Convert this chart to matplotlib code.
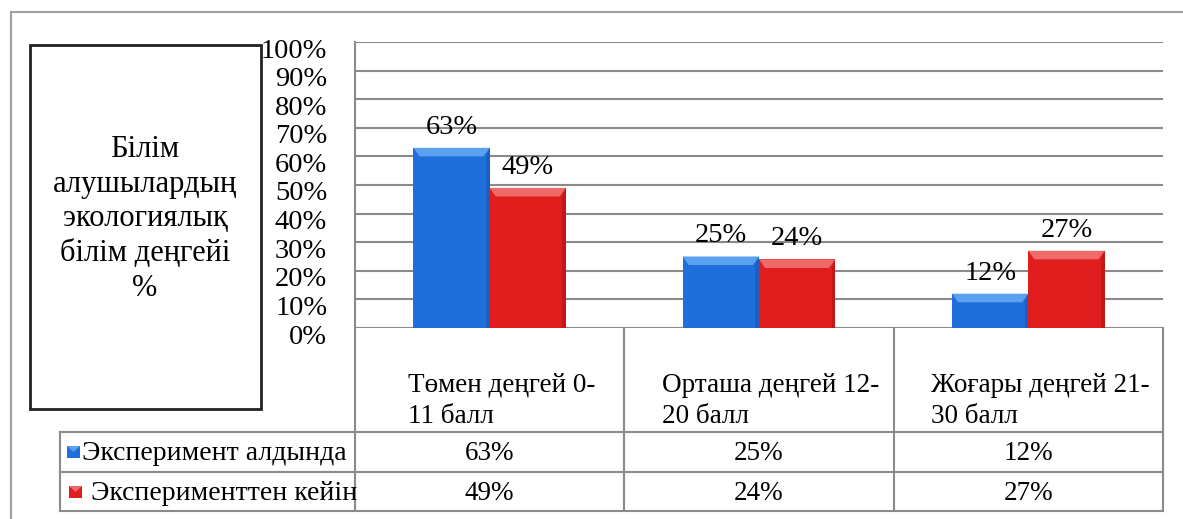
import matplotlib
matplotlib.use("Agg")
import matplotlib.pyplot as plt
import matplotlib.transforms as mtransforms
from matplotlib.patches import Polygon, Rectangle
from matplotlib.lines import Line2D

categories = ["Төмен деңгей 0-\n11 балл", "Орташа деңгей 12-\n20 балл", "Жоғары деңгей 21-\n30 балл"]
series_names = ["Эксперимент алдында", "Эксперименттен кейін"]
before = [63, 25, 12]
after = [49, 24, 27]
yticks = [0, 10, 20, 30, 40, 50, 60, 70, 80, 90, 100]
ylabel = "Білім\nалушылардың\nэкологиялық\nбілім деңгейі\n%"

W, H = 1183, 519
plt.rcParams['font.family'] = ['Liberation Serif', 'DejaVu Serif']
fig = plt.figure(figsize=(W / 100, H / 100), dpi=100)

blue, blue_light, blue_dark = "#1e6fdc", "#5aa2f0", "#1553a8"
red, red_light, red_dark = "#e01e1e", "#f06a6a", "#a81414"

# main plot area (pixel positions)
px_l, px_r, px_t, px_b = 355, 1163, 42, 328
ax = fig.add_axes([px_l / W, 1 - px_b / H, (px_r - px_l) / W, (px_b - px_t) / H])
ax.set_xlim(0, len(categories))
ax.set_ylim(0, 100)
ax.set_yticks(yticks)
ax.set_yticklabels([f"{v}%" for v in yticks], fontsize=20.5)
ax.tick_params(axis='y', length=0, pad=20)
ax.set_xticks([])
for s in ["top", "right", "bottom"]:
    ax.spines[s].set_visible(False)
ax.spines["left"].set_color("#8a8a8a")
ax.spines["left"].set_linewidth(1.5)
ax.grid(axis='y', color="#8a8a8a", linewidth=1.5)
ax.set_axisbelow(True)
off = mtransforms.ScaledTranslation(0, -6 / 100, fig.dpi_scale_trans)
for lab in ax.get_yticklabels():
    lab.set_transform(lab.get_transform() + off)

bw = 0.283
xs = [i + 0.5 for i in range(len(categories))]


def bevel(bars, light, dark):
    for b in bars:
        x0, w, h = b.get_x(), b.get_width(), b.get_height()
        bev_x = w * 0.08
        bev_y = 3.0
        ax.add_patch(Polygon([[x0, h], [x0 + w, h], [x0 + w - bev_x, h - bev_y], [x0 + bev_x, h - bev_y]],
                             closed=True, facecolor=light, edgecolor="none", zorder=4))
        ax.add_patch(Polygon([[x0 + w, h], [x0 + w, 0], [x0 + w - bev_x * 0.6, 0], [x0 + w - bev_x * 0.6, h - bev_y]],
                             closed=True, facecolor=dark, edgecolor="none", alpha=0.5, zorder=4))


b1 = ax.bar([x - bw / 2 for x in xs], before, width=bw, color=blue, zorder=3)
b2 = ax.bar([x + bw / 2 for x in xs], after, width=bw, color=red, zorder=3)
bevel(b1, blue_light, blue_dark)
bevel(b2, red_light, red_dark)
for bars, vals in ((b1, before), (b2, after)):
    for b, v in zip(bars, vals):
        ax.annotate(f"{v}%", (b.get_x() + b.get_width() / 2, v), xytext=(0, 8),
                    textcoords="offset pixels", ha="center", va="bottom", fontsize=20.5)

# overlay in pixel coordinates
ov = fig.add_axes([0, 0, 1, 1], zorder=5)
ov.set_xlim(0, W)
ov.set_ylim(H, 0)
ov.axis("off")
ov.patch.set_alpha(0)

gray = "#8a8a8a"
# outer frame
ov.add_line(Line2D([11, 11], [12, H + 5], color="#a0a0a0", lw=1.5))
ov.add_line(Line2D([11, W + 5], [12, 12], color="#a0a0a0", lw=1.5))

# left title box
ov.add_patch(Rectangle((30, 45), 231, 364, fill=False, edgecolor="#222222", lw=2))
ov.text(145, 219, ylabel, ha="center", va="center", fontsize=22, linespacing=1.26)

# category separators and table grid
col_x = [px_l + (px_r - px_l) * i / len(categories) for i in range(len(categories) + 1)]
row_top, row1, row2 = 432, 472, 511
for x in col_x:
    ov.add_line(Line2D([x, x], [px_b, row2], color=gray, lw=1.5))
for y in (row_top, row1, row2):
    ov.add_line(Line2D([60, px_r], [y, y], color=gray, lw=1.5))
ov.add_line(Line2D([60, 60], [row_top, row2], color=gray, lw=1.5))

for i, c in enumerate(categories):
    cx = (col_x[i] + col_x[i + 1]) / 2 + 12
    ov.text(cx, 401, c, ha="center", va="center", multialignment="left", fontsize=19.5, linespacing=1.32)

rows = [(before, blue, blue_light, 452), (after, red, red_light, 492)]
for (vals, col, coll, yc), name in zip(rows, series_names):
    mx = 67 if col == blue else 69
    ov.add_patch(Rectangle((mx, yc - 6), 13, 12, facecolor=col, edgecolor="none"))
    ov.add_patch(Polygon([[mx, yc - 6], [mx + 13, yc - 6], [mx + 6.5, yc]], facecolor=coll, edgecolor="none"))
    ov.text(mx + 15 + (0 if col == blue else 7), yc + 1, name, ha="left", va="center", fontsize=20)
    for i, v in enumerate(vals):
        ov.text((col_x[i] + col_x[i + 1]) / 2, yc + 2, f"{v}%", ha="center", va="center", fontsize=19.5)

fig.savefig("out.png", dpi=100)
